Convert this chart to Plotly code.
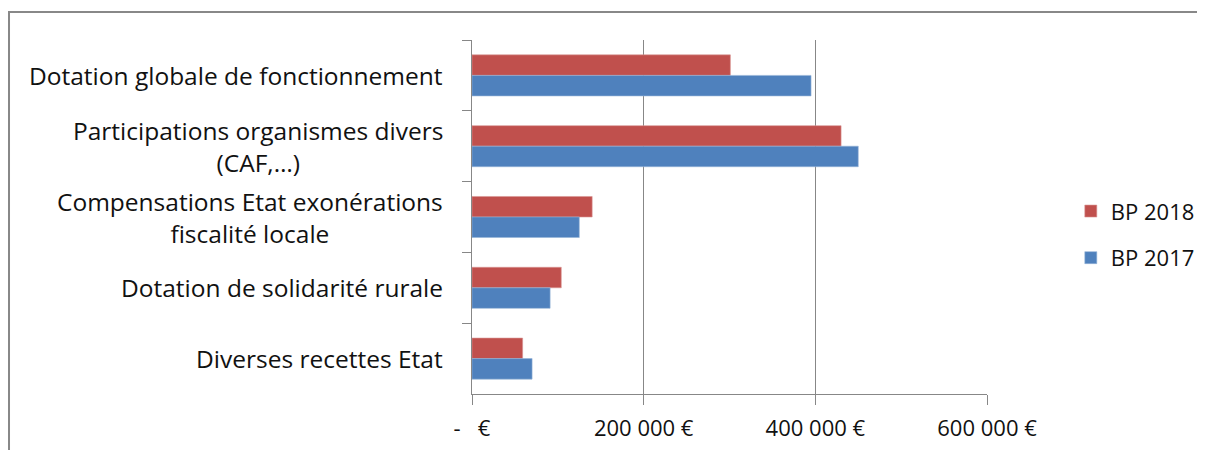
import plotly.graph_objects as go

# categories, top to bottom as shown
categories = [
    "Dotation globale de fonctionnement",
    "Participations organismes divers<br>(CAF,…)",
    "Compensations Etat exonérations<br>fiscalité locale",
    "Dotation de solidarité rurale",
    "Diverses recettes Etat",
]
bp_2018 = [301000, 430000, 140000, 104000, 59000]
bp_2017 = [395000, 450000, 125000, 91000, 70000]

tick_vals = [0, 200000, 400000, 600000]
tick_text = ["-\u00a0\u00a0\u00a0€", "200\u00a0000\u00a0€", "400\u00a0000\u00a0€", "600\u00a0000\u00a0€"]

FONT = "Open Sans"
TXT = "#111111"
GRID = "#878787"

fig = go.Figure()
fig.add_trace(go.Bar(
    y=categories, x=bp_2018, orientation="h", name="BP 2018",
    marker=dict(color="#C0504D", line=dict(color="#D99694", width=0.6)),
    legendgroup="a",
))
fig.add_trace(go.Bar(
    y=categories, x=bp_2017, orientation="h", name="BP 2017",
    marker=dict(color="#4F81BD", line=dict(color="#95B3D7", width=0.6)),
    legendgroup="b",
))

# category labels, centred multi-line like the original
for c in categories:
    fig.add_annotation(
        x=-0.052, xref="paper", y=c, yref="y",
        text=c, showarrow=False, xanchor="right", align="center",
        font=dict(family=FONT, size=24.5, color=TXT),
    )

# page body adds 8px, margins compensate
fig.update_layout(
    width=1205, height=450,
    paper_bgcolor="white", plot_bgcolor="white",
    margin=dict(l=464, r=226, t=32, b=64),
    barmode="group", bargap=0.42, bargroupgap=0,
    font=dict(family=FONT, size=22, color=TXT),
    showlegend=True,
    legend=dict(
        xref="container", yref="container", x=0.882, y=0.595,
        xanchor="left", yanchor="top", tracegroupgap=15,
        font=dict(family=FONT, size=22, color=TXT),
        bgcolor="rgba(0,0,0,0)",
    ),
    xaxis=dict(
        range=[0, 600000], tickvals=tick_vals, ticktext=tick_text,
        showgrid=True, gridcolor=GRID, gridwidth=1, zeroline=False,
        showline=True, linecolor=GRID, linewidth=1,
        ticks="outside", ticklen=10, tickcolor=GRID, ticklabelstandoff=5,
        tickfont=dict(family=FONT, size=22, color=TXT),
    ),
    yaxis=dict(
        autorange="reversed", showgrid=False, zeroline=False,
        showline=True, linecolor=GRID, linewidth=1,
        ticks="outside", ticklen=9, tickcolor=GRID, tickson="boundaries",
        showticklabels=False,
    ),
    shapes=[dict(
        type="rect", xref="paper", yref="paper",
        x0=-0.899, x1=1.6, y0=-0.4, y1=1.079,
        line=dict(color="#888888", width=2),
    )],
)

fig.write_html("out.html")
